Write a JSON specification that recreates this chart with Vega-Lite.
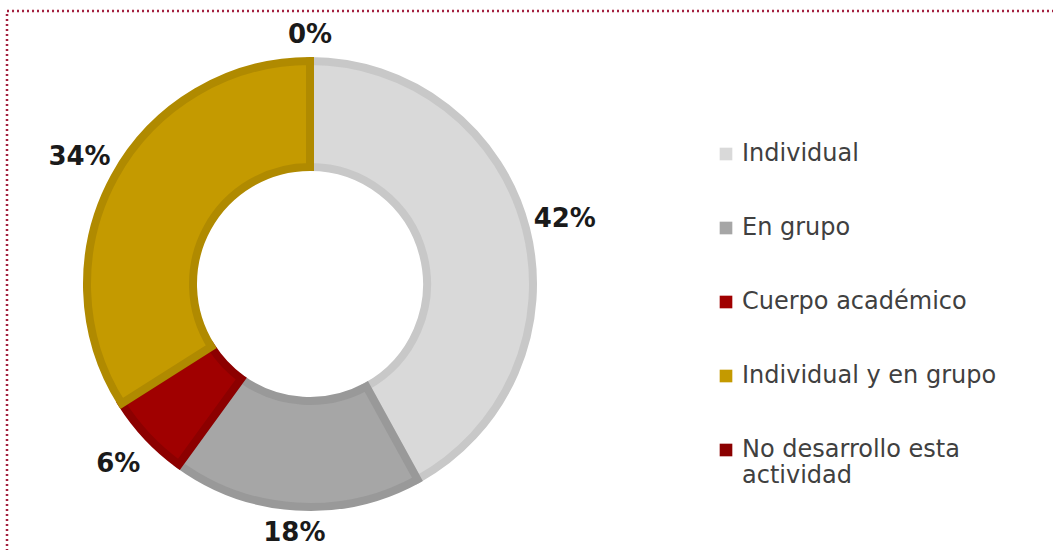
{
  "$schema": "https://vega.github.io/schema/vega-lite/v6.json",
  "width": 1050,
  "height": 545,
  "autosize": {"type": "none"},
  "padding": {"left": 7, "top": 11, "right": -4, "bottom": -6},
  "background": "white",
  "view": {"stroke": "#a3203f", "strokeDash": [2, 3], "strokeWidth": 2.5},
  "data": {
    "values": [
      {"categoria": "Individual", "valor": 0.42, "orden": 1},
      {"categoria": "En grupo", "valor": 0.18, "orden": 2},
      {"categoria": "Cuerpo académico", "valor": 0.06, "orden": 3},
      {"categoria": "Individual y en grupo", "valor": 0.34, "orden": 4},
      {"categoria": "No desarrollo esta actividad", "valor": 0.0, "orden": 5}
    ]
  },
  "transform": [
    {"stack": "valor", "groupby": [], "sort": [{"field": "orden", "order": "ascending"}], "as": ["v0", "v1"]},
    {"calculate": "(datum.v0 + datum.v1) / 2", "as": "medio"}
  ],
  "layer": [
    {
      "mark": {"type": "arc", "outerRadius": 223, "innerRadius": 117, "strokeWidth": 8, "x": 303, "y": 273},
      "encoding": {
        "theta": {"field": "v0", "type": "quantitative", "scale": {"domain": [0, 1]}},
        "theta2": {"field": "v1"},
        "color": {
          "field": "categoria",
          "type": "nominal",
          "scale": {
            "domain": ["Individual", "En grupo", "Cuerpo académico", "Individual y en grupo", "No desarrollo esta actividad"],
            "range": ["#d9d9d9", "#a6a6a6", "#a00000", "#c49a00", "#8b0000"]
          },
          "legend": {
            "orient": "none",
            "legendX": 707,
            "legendY": 131,
            "title": null,
            "symbolType": "square",
            "symbolSize": 160,
            "symbolStrokeWidth": 0,
            "labelFont": "DejaVu Sans",
            "labelFontSize": 24,
            "labelColor": "#404040",
            "rowPadding": 50,
            "labelOffset": 4,
            "labelLimit": 500,
            "labelExpr": "datum.label == 'No desarrollo esta actividad' ? ['No desarrollo esta', 'actividad'] : datum.label"
          }
        },
        "stroke": {
          "field": "categoria",
          "type": "nominal",
          "scale": {
            "domain": ["Individual", "En grupo", "Cuerpo académico", "Individual y en grupo", "No desarrollo esta actividad"],
            "range": ["#c8c8c8", "#999999", "#8c0000", "#b08a00", "#b08a00"]
          },
          "legend": null
        }
      }
    },
    {
      "transform": [{"filter": "datum.categoria != 'En grupo' && datum.categoria != 'No desarrollo esta actividad'"}],
      "mark": {"type": "text", "radius": 263, "x": 303, "y": 273, "font": "DejaVu Sans", "fontWeight": "bold", "fontSize": 26, "color": "#1a1a1a"},
      "encoding": {
        "theta": {"field": "medio", "type": "quantitative", "scale": {"domain": [0, 1]}},
        "text": {"field": "valor", "type": "quantitative", "format": ".0%"}
      }
    },
    {
      "transform": [{"filter": "datum.categoria == 'En grupo' || datum.categoria == 'No desarrollo esta actividad'"}],
      "mark": {"type": "text", "radius": 249, "x": 303, "y": 273, "font": "DejaVu Sans", "fontWeight": "bold", "fontSize": 26, "color": "#1a1a1a"},
      "encoding": {
        "theta": {"field": "medio", "type": "quantitative", "scale": {"domain": [0, 1]}},
        "text": {"field": "valor", "type": "quantitative", "format": ".0%"}
      }
    }
  ]
}
